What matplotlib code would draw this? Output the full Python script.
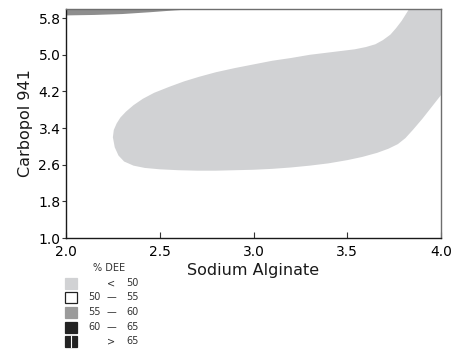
import matplotlib
matplotlib.use("Agg")
import matplotlib.pyplot as plt
from matplotlib.patches import Rectangle

# region boundaries (Sodium Alginate, Carbopol 941)
low_x = [2.25, 2.255, 2.27, 2.29, 2.32, 2.36, 2.41, 2.47, 2.55, 2.63, 2.71, 2.80, 2.90,
         3.00, 3.10, 3.20, 3.30, 3.40, 3.48, 3.54, 3.60, 3.65, 3.69, 3.73, 3.76, 3.79,
         3.81, 3.83, 4.00, 4.00, 3.95, 3.90, 3.85, 3.81, 3.77, 3.72, 3.66, 3.58, 3.50,
         3.40, 3.30, 3.20, 3.10, 3.00, 2.90, 2.80, 2.70, 2.60, 2.50, 2.42, 2.36, 2.31,
         2.28, 2.26]
low_y = [3.20, 3.36, 3.50, 3.63, 3.76, 3.90, 4.04, 4.17, 4.30, 4.42, 4.52, 4.62, 4.71,
         4.79, 4.87, 4.93, 5.00, 5.05, 5.09, 5.12, 5.17, 5.23, 5.32, 5.44, 5.58, 5.74,
         5.87, 6.00, 6.00, 4.12, 3.86, 3.60, 3.36, 3.18, 3.05, 2.95, 2.86, 2.77, 2.70,
         2.63, 2.58, 2.54, 2.51, 2.49, 2.48, 2.47, 2.47, 2.48, 2.50, 2.53, 2.58, 2.67,
         2.80, 2.98]
mid_x = [2.00, 2.00, 2.70, 2.58, 2.45, 2.30, 2.15, 2.00]
mid_y = [5.86, 6.00, 6.00, 5.97, 5.93, 5.89, 5.87, 5.86]

x_ticks = [2.0, 2.5, 3.0, 3.5, 4.0]
y_ticks = [1.0, 1.8, 2.6, 3.4, 4.2, 5.0, 5.8]

legend_title = "% DEE"
legend_rows = [("", "<", "50"), ("50", "\u2014", "55"), ("55", "\u2014", "60"),
               ("60", "\u2014", "65"), ("", ">", "65")]
legend_colors = ["#d1d2d4", "white", "#9b9b9b", "#232323", "#232323"]

fig = plt.figure(figsize=(4.51, 3.53), dpi=100)
ax = fig.add_axes([66 / 451, 1 - 238 / 353, 375 / 451, 229 / 353])

ax.fill(low_x, low_y, color="#d1d2d4", lw=0)
ax.fill(mid_x, mid_y, color="#8e8e8e", lw=0)

ax.set_xlim(2.0, 4.0)
ax.set_ylim(1.0, 6.0)
ax.set_xticks(x_ticks)
ax.set_yticks(y_ticks)
ax.set_xticklabels([f"{v:.1f}" for v in x_ticks])
ax.set_yticklabels([f"{v:.1f}" for v in y_ticks])
ax.tick_params(axis="x", direction="in", length=4, labelsize=10, pad=5, color="#333333")
ax.tick_params(axis="y", direction="out", length=3, labelsize=10, pad=1, color="#333333")
for s in ["left", "bottom"]:
    ax.spines[s].set_color("#1a1a1a")
for s in ["top", "right"]:
    ax.spines[s].set_color("#6e6e6e")
for s in ax.spines.values():
    s.set_linewidth(1.0)

ax.set_xlabel("Sodium Alginate", fontsize=11.5, labelpad=3, color="#1a1a1a")
ax.set_ylabel("Carbopol 941", fontsize=11.5, labelpad=4, color="#1a1a1a")

# custom legend under the axes
def fx(px):
    return px / 451

def fy(py):
    return 1 - py / 353

fig.text(fx(93), fy(268), legend_title, fontsize=7, color="#333333", va="center")
row_y = [283, 297, 312, 327, 341]
for (a, dash, b), c, y in zip(legend_rows, legend_colors, row_y):
    ec = "#222222" if c == "white" else c
    fig.patches.append(Rectangle((fx(65), fy(y + 6)), 12 / 451, 11 / 353, facecolor=c,
                                 edgecolor=ec, lw=0.9, transform=fig.transFigure))
    fig.text(fx(88), fy(y), a, fontsize=7, color="#333333", va="center")
    fig.text(fx(107), fy(y), dash, fontsize=7, color="#333333", va="center")
    fig.text(fx(126), fy(y), b, fontsize=7, color="#333333", va="center")
# split mark on the last swatch
fig.lines.append(plt.Line2D([fx(71), fx(71)], [fy(347), fy(336)], color="white", lw=0.8,
                            transform=fig.transFigure))

fig.savefig("out.png", dpi=100)
